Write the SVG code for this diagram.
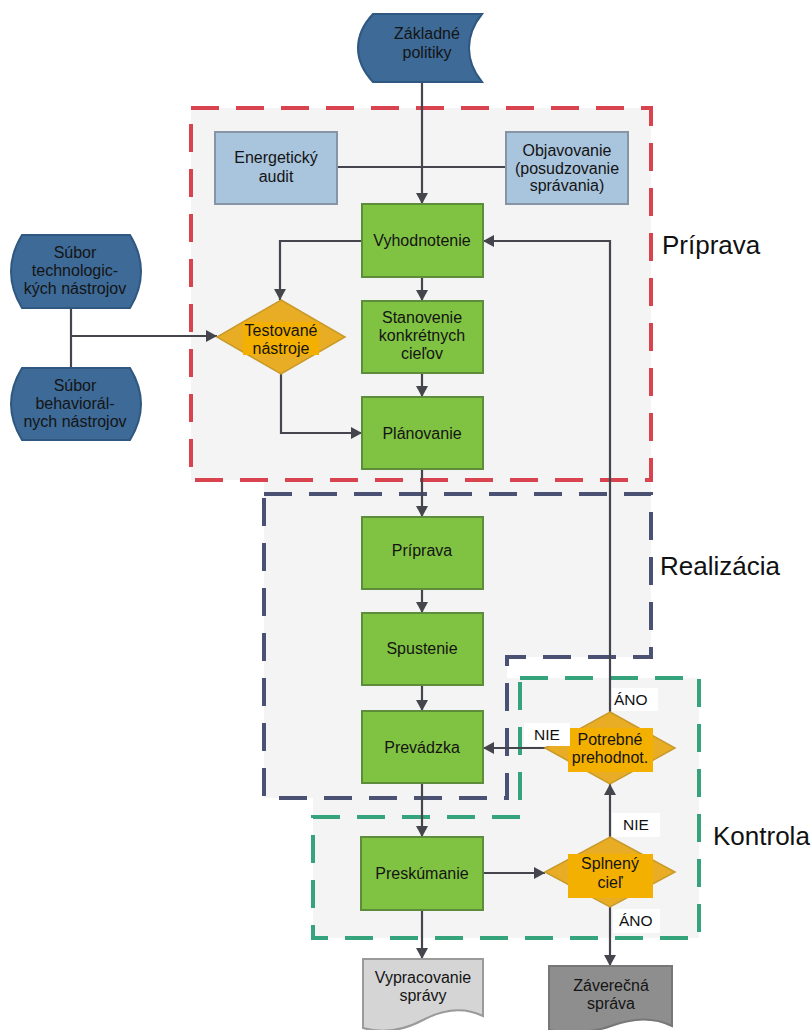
<svg xmlns="http://www.w3.org/2000/svg" width="812" height="1030" viewBox="0 0 812 1030">
  <style>
    .t { font-family: "Liberation Sans", Arial, sans-serif; font-size: 16px; fill: #141414; text-anchor: middle; }
    .sec { font-family: "Liberation Sans", Arial, sans-serif; font-size: 26px; fill: #111; }
    .yn { font-family: "Liberation Sans", Arial, sans-serif; font-size: 15.5px; fill: #111; }
    .green { fill: #80c342; stroke: #5d8c3a; stroke-width: 2; }
    .blue { fill: #3d6a97; stroke: #2f5780; stroke-width: 2; }
    .light { fill: #a9c4dd; stroke: #8595a6; stroke-width: 2; }
    .dia { fill: #e8ad25; stroke: #c99a2a; stroke-width: 1.5; }
    .lab { fill: #f4b000; }
    .wbg { fill: #ffffff; }
    .conn { fill: none; stroke: #45464d; stroke-width: 2.2; }
    .zone { fill: none; stroke-width: 4; stroke-dasharray: 28 17; }
  </style>
  <defs>
    <marker id="arr" markerUnits="userSpaceOnUse" markerWidth="12" markerHeight="12" refX="11" refY="6" orient="auto">
      <path d="M0,0 L11,6 L0,12 Z" fill="#45464d"/>
    </marker>
  </defs>

  <rect width="812" height="1030" fill="#ffffff"/>

  <!-- light zone backgrounds -->
  <g id="zone-fills" fill="#f4f4f4">
    <rect x="191" y="108" width="460" height="372"/>
    <path d="M264,480 H651 V657 H507 V798 H264 Z"/>
    <path d="M507,678 H699 V938 H313 V798 H507 Z"/>
  </g>

  <!-- phase boundaries -->
  <g id="zones">
    <rect class="zone" x="191" y="108" width="460" height="372" stroke="#d8434f"/>
    <path class="zone" d="M264,494 H651 V657 H507 V798 H264 Z" stroke="#4b5172"/>
    <path class="zone" d="M520,678 H699 V938 H313 V817 H520 Z" stroke="#35a37c"/>
  </g>

  <!-- connectors -->
  <g id="connectors">
    <path class="conn" d="M422,82 V204" marker-end="url(#arr)"/>
    <path class="conn" d="M337,167 H506"/>
    <path class="conn" d="M422,277 V301" marker-end="url(#arr)"/>
    <path class="conn" d="M422,373 V397" marker-end="url(#arr)"/>
    <path class="conn" d="M422,469 V517" marker-end="url(#arr)"/>
    <path class="conn" d="M422,589 V613" marker-end="url(#arr)"/>
    <path class="conn" d="M422,685 V711" marker-end="url(#arr)"/>
    <path class="conn" d="M422,783 V837" marker-end="url(#arr)"/>
    <path class="conn" d="M422,910 V959" marker-end="url(#arr)"/>
    <path class="conn" d="M362,241 H280 V300" marker-end="url(#arr)"/>
    <path class="conn" d="M281,374 V433 H362" marker-end="url(#arr)"/>
    <path class="conn" d="M71,308 V368"/>
    <path class="conn" d="M71,336 H217" marker-end="url(#arr)"/>
    <path class="conn" d="M483,873 H545" marker-end="url(#arr)"/>
    <path class="conn" d="M610,837 V784" marker-end="url(#arr)"/>
    <path class="conn" d="M545,748 H483" marker-end="url(#arr)"/>
    <path class="conn" d="M610,712 V241 H483" marker-end="url(#arr)"/>
    <path class="conn" d="M610,907 V966" marker-end="url(#arr)"/>
  </g>

  <!-- nodes -->
  <g id="zakladne-politiky">
    <path class="blue" d="M373,14 H482 Q469,30 469,48 Q469,66 482,82 H373 Q358,66 358,48 Q358,30 373,14 Z"/>
    <text class="t" x="427" y="39">Základné</text>
    <text class="t" x="427" y="58">politiky</text>
  </g>

  <g id="energeticky-audit">
    <rect class="light" x="215" y="132" width="122" height="72"/>
    <text class="t" x="276" y="163">Energetický</text>
    <text class="t" x="276" y="182">audit</text>
  </g>

  <g id="objavovanie">
    <rect class="light" x="506" y="132" width="122" height="72"/>
    <text class="t" x="567" y="156">Objavovanie</text>
    <text class="t" x="567" y="174">(posudzovanie</text>
    <text class="t" x="567" y="191">správania)</text>
  </g>

  <g id="vyhodnotenie">
    <rect class="green" x="362" y="204" width="121" height="73"/>
    <text class="t" x="422" y="246">Vyhodnotenie</text>
  </g>

  <g id="stanovenie">
    <rect class="green" x="362" y="301" width="121" height="72"/>
    <text class="t" x="422" y="323">Stanovenie</text>
    <text class="t" x="422" y="341">konkrétnych</text>
    <text class="t" x="422" y="359">cieľov</text>
  </g>

  <g id="planovanie">
    <rect class="green" x="362" y="397" width="121" height="72"/>
    <text class="t" x="422" y="439">Plánovanie</text>
  </g>

  <g id="subor-tech">
    <path class="blue" d="M22,235 H130 Q141,253 141,271.5 Q141,290 130,308 H22 Q11,290 11,271.5 Q11,253 22,235 Z"/>
    <text class="t" x="75" y="258">Súbor</text>
    <text class="t" x="75" y="276">technologic-</text>
    <text class="t" x="75" y="294">kých nástrojov</text>
  </g>

  <g id="subor-behav">
    <path class="blue" d="M22,368 H130 Q141,386 141,404 Q141,422 130,440 H22 Q11,422 11,404 Q11,386 22,368 Z"/>
    <text class="t" x="75" y="391">Súbor</text>
    <text class="t" x="75" y="409">behaviorál-</text>
    <text class="t" x="75" y="427">nych nástrojov</text>
  </g>

  <g id="testovane-nastroje">
    <path class="dia" d="M281,300 L345,337 L281,374 L217,337 Z"/>
    <rect class="lab" x="243" y="322" width="76" height="33"/>
    <text class="t" x="281" y="336">Testované</text>
    <text class="t" x="281" y="354">nástroje</text>
  </g>

  <g id="priprava">
    <rect class="green" x="362" y="517" width="121" height="72"/>
    <text class="t" x="422" y="556">Príprava</text>
  </g>

  <g id="spustenie">
    <rect class="green" x="362" y="613" width="121" height="72"/>
    <text class="t" x="422" y="654">Spustenie</text>
  </g>

  <g id="prevadzka">
    <rect class="green" x="362" y="711" width="121" height="72"/>
    <text class="t" x="422" y="753">Prevádzka</text>
  </g>

  <g id="preskumanie">
    <rect class="green" x="361" y="837" width="122" height="73"/>
    <text class="t" x="422" y="879">Preskúmanie</text>
  </g>

  <g id="potrebne-prehodnot">
    <path class="dia" d="M610,712 L675,748 L610,784 L545,748 Z"/>
    <rect class="lab" x="568" y="728" width="85" height="44"/>
    <text class="t" x="610" y="745">Potrebné</text>
    <text class="t" x="610" y="763">prehodnot.</text>
  </g>

  <g id="splneny-ciel">
    <path class="dia" d="M610,837 L675,872 L610,907 L545,872 Z"/>
    <rect class="lab" x="568" y="854" width="85" height="44"/>
    <text class="t" x="610" y="869">Splnený</text>
    <text class="t" x="610" y="888">cieľ</text>
  </g>

  <g id="vypracovanie-spravy">
    <path d="M363,959 H483 V1016 C462,1006 442,1010 423,1020 C404,1030 384,1034 363,1028 Z" fill="#d5d5d5" stroke="#9a9a9a" stroke-width="2"/>
    <text class="t" x="423" y="983">Vypracovanie</text>
    <text class="t" x="423" y="1001">správy</text>
  </g>

  <g id="zaverecna-sprava">
    <path d="M549,966 H672 V1026 C652,1016 632,1018 611,1026 C595,1032 570,1034 549,1030 Z" fill="#8e8e8e" stroke="#777" stroke-width="2"/>
    <text class="t" x="611" y="991">Záverečná</text>
    <text class="t" x="611" y="1009">správa</text>
  </g>

  <!-- branch labels -->
  <g id="branch-labels">
    <rect class="wbg" x="612" y="688" width="46" height="23"/>
    <text class="yn" x="614" y="705">ÁNO</text>
    <rect class="wbg" x="524" y="723" width="46" height="23"/>
    <text class="yn" x="534" y="740">NIE</text>
    <rect class="wbg" x="612" y="813" width="48" height="24"/>
    <text class="yn" x="623" y="830">NIE</text>
    <rect class="wbg" x="613" y="909" width="47" height="24"/>
    <text class="yn" x="619" y="926">ÁNO</text>
  </g>

  <!-- phase names -->
  <g id="phase-labels">
    <text class="sec" x="662" y="254">Príprava</text>
    <text class="sec" x="660" y="575">Realizácia</text>
    <text class="sec" x="713" y="845">Kontrola</text>
  </g>
</svg>
